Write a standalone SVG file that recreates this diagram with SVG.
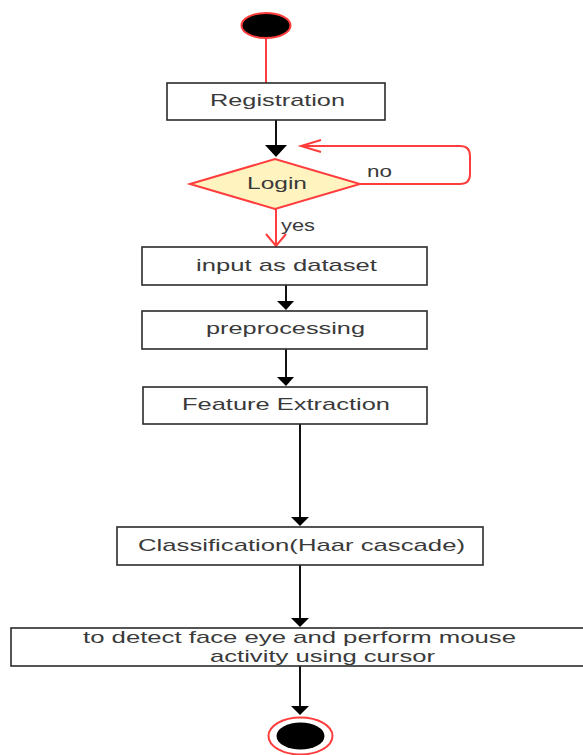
<svg xmlns="http://www.w3.org/2000/svg" width="583" height="755" viewBox="0 0 583 755">
<defs>
<style>
.box{fill:#fff;stroke:#2b2b2b;stroke-width:1.6}
.t{font-family:"Liberation Sans",Arial,sans-serif;font-size:17px;fill:#3a3a3a}
.red{stroke:#ff3d3d;stroke-width:2;fill:none}
.blk{stroke:#111;stroke-width:2;fill:none}
.ah{fill:#000}
</style>
</defs>
<rect width="583" height="755" fill="#fff"/>
<g id="connectors">
<line class="red" x1="266" y1="38" x2="266" y2="83"/>
<line class="blk" x1="276" y1="120" x2="276" y2="150"/>
<path class="ah" d="M265,145 L287,145 L276,157 Z"/>
<path class="red" d="M360,184 H460 Q470,184 470,174 V156 Q470,146 460,146 H301"/>
<path class="red" d="M321,140 L301,146 L321,152"/>
<line class="red" x1="276" y1="209" x2="276" y2="246"/>
<path class="red" d="M266,234 L276,246 L286,234"/>
<line class="blk" x1="286" y1="285" x2="286" y2="304"/>
<path class="ah" d="M277,301 L294,301 L286,310 Z"/>
<line class="blk" x1="286" y1="349" x2="286" y2="380"/>
<path class="ah" d="M277,377 L294,377 L286,386 Z"/>
<line class="blk" x1="300" y1="424" x2="300" y2="520"/>
<path class="ah" d="M291,517 L309,517 L300,526 Z"/>
<line class="blk" x1="300" y1="565" x2="300" y2="621"/>
<path class="ah" d="M291,618 L309,618 L300,627 Z"/>
<line class="blk" x1="300" y1="666" x2="300" y2="709"/>
<path class="ah" d="M291,706 L309,706 L300,715 Z"/>
</g>
<g id="start">
<ellipse cx="266" cy="25.5" rx="24.5" ry="12.5" fill="#000" stroke="#ff3d3d" stroke-width="2"/>
</g>
<g id="registration">
<rect class="box" x="167" y="83" width="218" height="37"/>
<text class="t" x="210" y="106" textLength="135" lengthAdjust="spacingAndGlyphs">Registration</text>
</g>
<g id="login">
<polygon points="190,184 275,159 360,184 275,209" fill="#fff4c0" stroke="#ff3d3d" stroke-width="2"/>
<text class="t" x="247" y="189" textLength="60" lengthAdjust="spacingAndGlyphs">Login</text>
</g>
<g id="labels">
<text class="t" x="367" y="177" font-size="16" textLength="25" lengthAdjust="spacingAndGlyphs">no</text>
<text class="t" x="281" y="231" font-size="16" textLength="34" lengthAdjust="spacingAndGlyphs">yes</text>
</g>
<g id="input">
<rect class="box" x="142" y="247" width="285" height="38"/>
<text class="t" x="196" y="271" textLength="181" lengthAdjust="spacingAndGlyphs">input as dataset</text>
</g>
<g id="preprocessing">
<rect class="box" x="142" y="311" width="285" height="38"/>
<text class="t" x="206" y="334" textLength="159" lengthAdjust="spacingAndGlyphs">preprocessing</text>
</g>
<g id="feature">
<rect class="box" x="143" y="387" width="284" height="37"/>
<text class="t" x="182" y="410" textLength="208" lengthAdjust="spacingAndGlyphs">Feature Extraction</text>
</g>
<g id="classification">
<rect class="box" x="117" y="527" width="366" height="38"/>
<text class="t" x="138" y="551" textLength="327" lengthAdjust="spacingAndGlyphs">Classification(Haar cascade)</text>
</g>
<g id="detect">
<rect class="box" x="11" y="628" width="585" height="38"/>
<text class="t" x="83" y="643" textLength="433" lengthAdjust="spacingAndGlyphs">to detect face eye and perform mouse</text>
<text class="t" x="210" y="662" textLength="225" lengthAdjust="spacingAndGlyphs">activity using cursor</text>
</g>
<g id="end">
<ellipse cx="300.5" cy="736" rx="32" ry="18.5" fill="#fff" stroke="#ff3d3d" stroke-width="2"/>
<ellipse cx="300.5" cy="736" rx="24" ry="13.5" fill="#000"/>
</g>
</svg>
